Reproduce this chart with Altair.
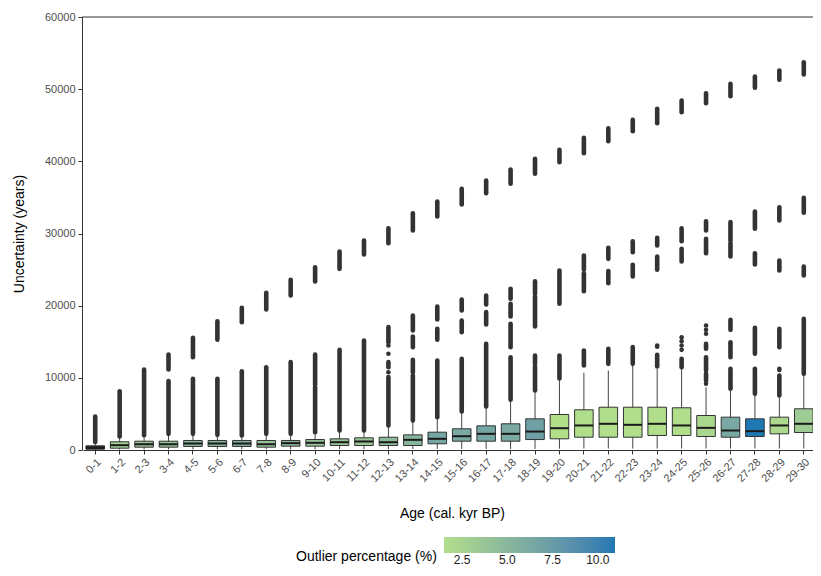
import altair as alt
import pandas as pd

ages = ["0-1", "1-2", "2-3", "3-4", "4-5", "5-6", "6-7", "7-8", "8-9", "9-10",
        "10-11", "11-12", "12-13", "13-14", "14-15", "15-16", "16-17", "17-18", "18-19", "19-20",
        "20-21", "21-22", "22-23", "23-24", "24-25", "25-26", "26-27", "27-28", "28-29", "29-30"]
outlier_pct = [5.0, 3.0, 3.9, 4.0, 5.0, 5.2, 5.7, 3.9, 4.7, 3.9,
               3.9, 3.7, 4.7, 5.1, 6.6, 6.2, 6.6, 6.2, 7.1, 1.5,
               1.6, 1.55, 1.6, 1.55, 1.6, 2.2, 6.3, 10.95, 2.0, 3.2]
whisker_low = [0, 50, 80, 80, 80, 80, 80, 80, 80, 100,
               100, 100, 100, 120, 150, 150, 150, 150, 150, 180,
               200, 200, 200, 200, 200, 200, 200, 200, 200, 200]
q1 = [110, 250, 390, 390, 490, 490, 490, 390, 530, 530,
      620, 620, 620, 620, 860, 1220, 1220, 1220, 1450, 1550,
      1770, 1770, 1770, 2010, 2010, 1870, 1770, 1870, 2240, 2420]
median = [300, 670, 800, 800, 900, 900, 900, 800, 950, 1000,
          1080, 1180, 1080, 1410, 1550, 1910, 2240, 2240, 2560, 3020,
          3400, 3630, 3490, 3630, 3400, 3070, 2700, 2610, 3400, 3630]
q3 = [580, 1140, 1220, 1220, 1320, 1320, 1320, 1320, 1320, 1450,
      1550, 1690, 1770, 2100, 2470, 2940, 3350, 3630, 4320, 4920,
      5570, 5930, 5930, 5930, 5850, 4780, 4550, 4320, 4550, 5710]
whisker_high = [1040, 1870, 2050, 2240, 2240, 2100, 2010, 2240, 2240, 2470,
                2700, 2700, 3260, 4090, 4460, 5340, 6030, 6860, 8150, 9730,
                10700, 11020, 11710, 11250, 11250, 8700, 8250, 7790, 7550, 10560]

# outlier runs (dense points drawn as round-capped streaks)
out_age = [
    "0-1", "1-2", "2-3",
    "3-4", "3-4", "4-5", "4-5", "5-6", "5-6", "6-7", "6-7", "7-8", "7-8", "8-9", "8-9",
    "9-10", "9-10", "9-10", "10-11", "10-11", "10-11", "11-12", "11-12",
    "12-13", "12-13", "12-13", "12-13", "12-13", "12-13", "12-13",
    "13-14", "13-14", "13-14", "13-14", "13-14",
    "14-15", "14-15", "14-15", "14-15", "14-15",
    "15-16", "15-16", "15-16", "15-16",
    "16-17", "16-17", "16-17", "16-17",
    "17-18", "17-18", "17-18", "17-18", "17-18",
    "18-19", "18-19", "18-19", "18-19", "18-19",
    "19-20", "19-20", "19-20",
    "20-21", "20-21", "20-21", "20-21",
    "21-22", "21-22", "21-22", "21-22",
    "22-23", "22-23", "22-23", "22-23",
    "23-24", "23-24", "23-24", "23-24", "23-24",
    "24-25", "24-25", "24-25", "24-25", "24-25", "24-25", "24-25", "24-25",
    "25-26", "25-26", "25-26", "25-26", "25-26", "25-26", "25-26", "25-26", "25-26", "25-26",
    "26-27", "26-27", "26-27", "26-27", "26-27", "26-27",
    "27-28", "27-28", "27-28", "27-28", "27-28",
    "28-29", "28-29", "28-29", "28-29", "28-29", "28-29",
    "29-30", "29-30", "29-30", "29-30",
]
out_low = [
    1100, 1870, 2050,
    2240, 11150, 2240, 12860, 2100, 15270, 2010, 17710, 2240, 19470, 2240, 21410,
    2470, 9000, 23350, 2700, 12640, 25100, 2700, 27090,
    3400, 10780, 11470, 13330, 14480, 14940, 28650,
    4090, 10780, 14250, 16560, 30420,
    4550, 11250, 15270, 18080, 32350,
    5340, 16320, 19330, 34020,
    6030, 17390, 20160, 35580,
    6960, 14250, 18500, 20950, 36890,
    8250, 11940, 17110, 21640, 38270,
    9900, 20260, 39880,
    11710, 22010, 25000, 41130,
    11940, 23110, 26490, 42790,
    11940, 24040, 27410, 44170,
    11570, 14300, 24970, 28340, 45290,
    11470, 13880, 14480, 15080, 15630, 26120, 28930, 46810,
    9170, 9630, 11020, 14020, 16100, 16650, 17250, 27270, 30420, 48060,
    8480, 12860, 16650, 26810, 29030, 49030,
    7790, 13330, 25700, 30650, 50190,
    7550, 11100, 14250, 24870, 31800, 51300,
    10560, 24180, 32870, 52030,
]
out_high = [
    4640, 8150, 11150,
    9540, 13230, 9860, 15550, 9860, 17850, 10920, 19700, 11470, 21780, 12170, 23580,
    8700, 13230, 25330, 12400, 13880, 27500, 15170, 29030,
    10100, 10780, 12170, 13330, 14480, 17020, 30730,
    10320, 12500, 15730, 18640, 32810,
    11020, 12400, 16790, 19880, 34430,
    12640, 17940, 20850, 36200,
    14710, 19100, 21410, 37350,
    12860, 17490, 20260, 22340, 38870,
    11570, 13100, 21270, 23390, 40350,
    13100, 24870, 41600,
    13790, 24500, 26950, 43260,
    14020, 24780, 28020, 44590,
    14250, 25660, 28930, 45740,
    13190, 14480, 26810, 29400, 47280,
    12640, 13880, 14480, 15080, 15630, 27880, 30730, 48430,
    9170, 10560, 12860, 14710, 16100, 16650, 17250, 29260, 31700, 49440,
    11250, 14940, 18040, 28650, 31570, 50740,
    11250, 16930, 27270, 33050, 51750,
    10320, 11250, 16790, 26260, 33640, 52590,
    18180, 25430, 34950, 53740,
]

y_ticks = [0, 10000, 20000, 30000, 40000, 50000, 60000]
legend_ticks = [2.5, 5.0, 7.5, 10.0]
legend_title = ["Outlier percentage (%)"]

boxes = pd.DataFrame({
    "age": ages, "pct": outlier_pct, "wlo": whisker_low, "q1": q1,
    "med": median, "q3": q3, "whi": whisker_high,
})
outs = pd.DataFrame({"age": out_age, "lo": out_low, "hi": out_high})
top = pd.DataFrame({"top": [60000]})
ltitle = pd.DataFrame({"t": legend_title})

W, H = 731, 433

x_enc = alt.X(
    "age:N", sort=ages,
    scale=alt.Scale(type="band", domain=ages, paddingInner=0, paddingOuter=0, range=[1, 734]),
    axis=alt.Axis(title="Age (cal. kyr BP)", labelAngle=-45, labelFontSize=11,
                  labelColor="#4d4d4d", labelPadding=2, tickSize=4,
                  titleFontSize=14, titleFontWeight="normal", titleColor="#000000",
                  titleX=370, titleY=56, domainColor="#333333", tickColor="#333333"),
)
y_scale = alt.Scale(domain=[0, 60000], nice=False, zero=True)
y_axis = alt.Axis(title="Uncertainty (years)", values=y_ticks, format="d", grid=False,
                  labelFontSize=11, labelColor="#4d4d4d", labelPadding=3, tickSize=4,
                  titleFontSize=14, titleFontWeight="normal", titleColor="#000000",
                  titleX=-56, domainColor="#333333", tickColor="#333333")

top_line = alt.Chart(top).mark_rule(color="#333333", strokeWidth=1).encode(
    y=alt.Y("top:Q", scale=y_scale, axis=y_axis)
)

whiskers = alt.Chart(boxes).mark_rule(color="#444444", strokeWidth=1).encode(
    x=x_enc,
    y=alt.Y("wlo:Q", scale=y_scale, axis=y_axis),
    y2="whi:Q",
)

fill = alt.condition(
    alt.datum.age == "0-1",
    alt.value("#333333"),
    alt.Color("pct:Q",
              scale=alt.Scale(domain=[1.5, 10.95], range=["#b2df8a", "#1f78b4"], interpolate="lab"),
              legend=alt.Legend(title=None, orient="none", legendX=362, legendY=520,
                                direction="horizontal",
                                gradientLength=171, gradientThickness=16, gradientStrokeWidth=0,
                                values=legend_ticks, format=".1f", labelFontSize=12,
                                labelColor="#1a1a1a", labelOffset=2, padding=0)),
)

box = alt.Chart(boxes).mark_bar(width={"band": 0.76}, stroke="#333333", strokeWidth=1).encode(
    x=x_enc,
    y=alt.Y("q1:Q", scale=y_scale, axis=y_axis),
    y2="q3:Q",
    fill=fill,
)

med = alt.Chart(boxes).mark_tick(color="#1a1a1a", thickness=2, size=18.6, opacity=1).encode(
    x=x_enc,
    y=alt.Y("med:Q", scale=y_scale, axis=y_axis),
)

outliers = alt.Chart(outs).mark_rule(color="#333333", strokeWidth=4.6, strokeCap="round").encode(
    x=x_enc,
    y=alt.Y("lo:Q", scale=y_scale, axis=y_axis),
    y2="hi:Q",
)

legend_title_text = alt.Chart(ltitle).mark_text(
    align="left", baseline="middle", fontSize=14, color="#000000"
).encode(text="t:N", x=alt.value(214), y=alt.value(540))

chart = alt.layer(top_line, whiskers, box, med, outliers, legend_title_text).properties(
    width=W, height=H,
    autosize=alt.AutoSizeParams(type="none"),
    padding={"left": 74, "top": 9, "right": 0, "bottom": 118},
).configure(font="Liberation Sans").configure_view(strokeWidth=0)

chart.save("out.html", embed_options={"renderer": "svg", "actions": False})
